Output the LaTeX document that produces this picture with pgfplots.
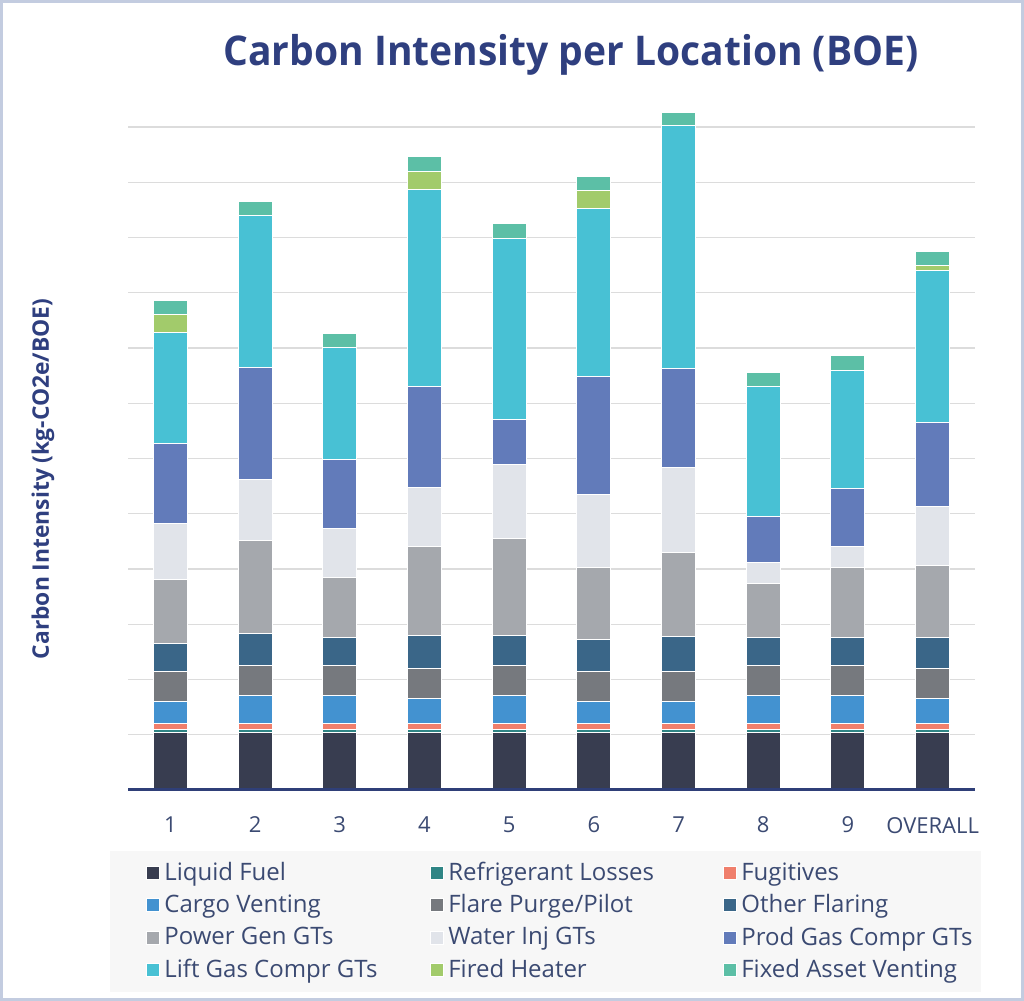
\documentclass[border=0pt]{standalone}
\usepackage{pgfplots}
\pgfplotsset{compat=1.18}
\usepackage{pgfplotstable}
\usepackage{fontspec}
\setmainfont{Open Sans}
\setsansfont{Open Sans}

\definecolor{cLF}{HTML}{383D50}
\definecolor{cRL}{HTML}{2F8585}
\definecolor{cFU}{HTML}{F07F6C}
\definecolor{cCV}{HTML}{4392D0}
\definecolor{cFP}{HTML}{76797E}
\definecolor{cOF}{HTML}{3A6688}
\definecolor{cPG}{HTML}{A5A8AD}
\definecolor{cWI}{HTML}{E1E4EA}
\definecolor{cPGC}{HTML}{627BBA}
\definecolor{cLG}{HTML}{48C1D4}
\definecolor{cFH}{HTML}{A2CB6B}
\definecolor{cFA}{HTML}{5CBFA6}
\definecolor{navy}{HTML}{2F3F7F}
\definecolor{axisc}{HTML}{2F3F78}
\definecolor{txt}{HTML}{3B4A72}
\definecolor{gridc}{HTML}{DCDCDC}
\definecolor{legbg}{HTML}{F7F7F7}
\definecolor{framec}{HTML}{C3CCE0}

\pgfplotstableread{
x LF RL FU CV FP OF PG WI PGC LG FH FA
0 1.04 0.05 0.12 0.39 0.54 0.51 1.16 1.01 1.45 2.01 0.33 0.25
1 1.04 0.05 0.12 0.50 0.54 0.59 1.67 1.11 2.03 2.75 0.00 0.26
2 1.04 0.05 0.12 0.50 0.54 0.51 1.09 0.88 1.25 2.03 0.00 0.26
3 1.04 0.05 0.12 0.44 0.54 0.61 1.60 1.08 1.82 3.57 0.33 0.26
4 1.04 0.05 0.12 0.50 0.54 0.55 1.75 1.34 0.82 3.28 0.00 0.27
5 1.04 0.05 0.12 0.39 0.54 0.59 1.30 1.31 2.14 3.04 0.33 0.26
6 1.04 0.05 0.12 0.39 0.54 0.64 1.51 1.54 1.79 4.40 0.00 0.25
7 1.04 0.05 0.12 0.50 0.54 0.51 0.97 0.39 0.83 2.36 0.00 0.25
8 1.04 0.05 0.12 0.50 0.54 0.51 1.27 0.37 1.06 2.14 0.00 0.26
9 1.04 0.05 0.12 0.45 0.54 0.56 1.30 1.07 1.53 2.74 0.09 0.26
}\data

\newcommand{\legtexta}[1]{\makebox[131pt][l]{#1\vphantom{Lqy}}}
\newcommand{\legtextb}[1]{\makebox[135.5pt][l]{#1\vphantom{Lqy}}}
\newcommand{\legtextc}[1]{\makebox[100pt][l]{#1\vphantom{Lqy}}}

\begin{document}
\begin{tikzpicture}
\useasboundingbox (0,0) rectangle (512pt,500.5pt);
\draw[framec, line width=1.5pt] (0.75pt,0.75pt) rectangle (511.25pt,499.75pt);
\begin{axis}[
  at={(64pt,105.5pt)}, anchor=south west,
  scale only axis, width=423.5pt, height=339.79pt,
  xmin=-0.5, xmax=9.5, ymin=0, ymax=12.3,
  ybar stacked, bar width=17pt,
  xtick={0,...,9}, xticklabels={1,2,3,4,5,6,7,8,9,OVERALL},
  ytick={1,...,12}, yticklabels={},
  ymajorgrids, grid style={gridc, line width=0.6pt},
  major tick length=0pt,
  axis line style={draw=none},
  xticklabel style={font=\fontsize{11}{13}\selectfont, text=txt, yshift=-10pt},
  legend columns=3,
  legend cell align=left,
  legend image code/.code={\fill[#1] (0pt,-3.25pt) rectangle (6.5pt,3.25pt);},
  legend style={at={(axis description cs:-0.0213,-0.0897)}, anchor=north west,
    fill=legbg, draw=none, font=\fontsize{12}{14}\selectfont, text=txt,
    row sep=1.5pt, inner xsep=18pt, inner ysep=3.5pt},
]
\addplot[fill=cLF, draw=white, line width=0.5pt] table[x=x,y=LF]{\data};
\addlegendentry{\legtexta{Liquid Fuel}}
\addplot[fill=cRL, draw=white, line width=0.5pt] table[x=x,y=RL]{\data};
\addlegendentry{\legtextb{Refrigerant Losses}}
\addplot[fill=cFU, draw=white, line width=0.5pt] table[x=x,y=FU]{\data};
\addlegendentry{\legtextc{Fugitives}}
\addplot[fill=cCV, draw=white, line width=0.5pt] table[x=x,y=CV]{\data};
\addlegendentry{\legtexta{Cargo Venting}}
\addplot[fill=cFP, draw=white, line width=0.5pt] table[x=x,y=FP]{\data};
\addlegendentry{\legtextb{Flare Purge/Pilot}}
\addplot[fill=cOF, draw=white, line width=0.5pt] table[x=x,y=OF]{\data};
\addlegendentry{\legtextc{Other Flaring}}
\addplot[fill=cPG, draw=white, line width=0.5pt] table[x=x,y=PG]{\data};
\addlegendentry{\legtexta{Power Gen GTs}}
\addplot[fill=cWI, draw=white, line width=0.5pt] table[x=x,y=WI]{\data};
\addlegendentry{\legtextb{Water Inj GTs}}
\addplot[fill=cPGC, draw=white, line width=0.5pt] table[x=x,y=PGC]{\data};
\addlegendentry{\legtextc{Prod Gas Compr GTs}}
\addplot[fill=cLG, draw=white, line width=0.5pt] table[x=x,y=LG]{\data};
\addlegendentry{\legtexta{Lift Gas Compr GTs}}
\addplot[fill=cFH, draw=white, line width=0.5pt] table[x=x,y=FH]{\data};
\addlegendentry{\legtextb{Fired Heater}}
\addplot[fill=cFA, draw=white, line width=0.5pt] table[x=x,y=FA]{\data};
\addlegendentry{\legtextc{Fixed Asset Venting}}
\end{axis}
\draw[axisc, line width=1.5pt] (64pt,105.5pt) -- (487.5pt,105.5pt);
\node[font=\fontsize{19.5}{22}\selectfont\bfseries, text=navy] at (285.5pt,473pt) {\scalebox{1}[1.05]{Carbon Intensity per Location (BOE)}};
\node[rotate=90, font=\fontsize{11.4}{13}\selectfont\bfseries, text=navy] at (21.5pt,261pt) {Carbon Intensity (kg-CO2e/BOE)};
\end{tikzpicture}
\end{document}
